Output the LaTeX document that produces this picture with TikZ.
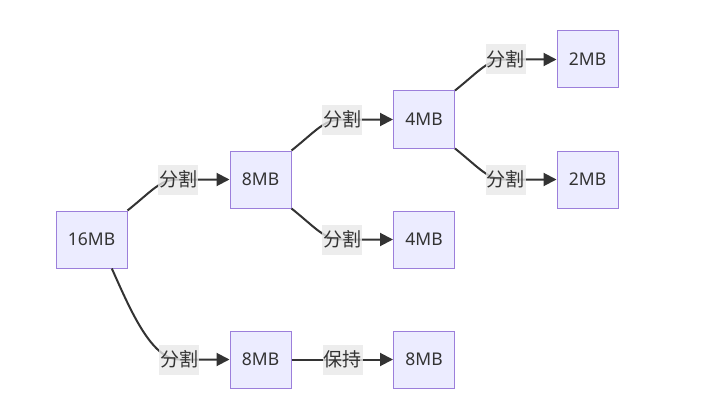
\documentclass[tikz,border=0pt]{standalone}
\usepackage{fontspec}
\setmainfont{Noto Sans}
\newfontfamily\cjk{Noto Sans CJK SC}
\usetikzlibrary{arrows.meta,positioning,calc}

\definecolor{boxfill}{HTML}{ECECFF}
\definecolor{boxline}{HTML}{9C7FDB}
\definecolor{edgecol}{HTML}{333333}
\definecolor{lblfill}{HTML}{E8E8E8}

\tikzset{
  block/.style={draw=boxline, fill=boxfill, line width=1pt, minimum width=61pt,
    minimum height=57pt, inner sep=0pt, font=\fontsize{17.5}{19}\selectfont, text=edgecol},
  edge/.style={draw=edgecol, line width=2pt, -{Triangle[length=13pt,width=13pt]}},
  lbl/.style={fill=lblfill, fill opacity=0.8, text opacity=1, minimum width=40pt,
    minimum height=30pt, inner sep=0pt, font=\cjk\fontsize{19}{21}\selectfont, text=edgecol}
}

\begin{document}
\begin{tikzpicture}[x=1pt,y=-1pt]
    \useasboundingbox (0,0) rectangle (708,401);

    % memory blocks
    \node[block, minimum width=71pt] (n16) at (91.5,239.5) {16MB};
    \node[block] (n8a) at (260.5,179.5) {8MB};
    \node[block] (n8b) at (260.5,359.5) {8MB};
    \node[block] (n4a) at (424,119.5) {4MB};
    \node[block] (n4b) at (424,239.5) {4MB};
    \node[block] (n8c) at (424,359.5) {8MB};
    \node[block] (n2a) at (587.5,59.5) {2MB};
    \node[block] (n2b) at (587.5,179.5) {2MB};

    % label positions
    \coordinate (l16a) at (178,179.5);
    \coordinate (l16b) at (179,359.5);
    \coordinate (l8a) at (342,119.5);
    \coordinate (l8b) at (342,239.5);
    \coordinate (l4a) at (505.5,59.5);
    \coordinate (l4b) at (505.5,179.5);
    \coordinate (l8c) at (342.5,359.5);

    % edges
    \draw[edge] (n16.north east) .. controls +(25,-20) and +(-18,0) .. (l16a)
        node[lbl] {分割} -- (n8a);
    \draw[edge] (n16.-55) .. controls +(18,40) and +(-28,0) .. (l16b)
        node[lbl] {分割} -- (n8b);
    \draw[edge] (n8a.north east) .. controls +(25,-20) and +(-18,0) .. (l8a)
        node[lbl] {分割} -- (n4a);
    \draw[edge] (n8a.south east) .. controls +(25,20) and +(-18,0) .. (l8b)
        node[lbl] {分割} -- (n4b);
    \draw[edge] (n4a.north east) .. controls +(25,-20) and +(-18,0) .. (l4a)
        node[lbl] {分割} -- (n2a);
    \draw[edge] (n4a.south east) .. controls +(25,20) and +(-18,0) .. (l4b)
        node[lbl] {分割} -- (n2b);
    \draw[edge] (n8b) -- (l8c) node[lbl] {保持} -- (n8c);
\end{tikzpicture}
\end{document}
